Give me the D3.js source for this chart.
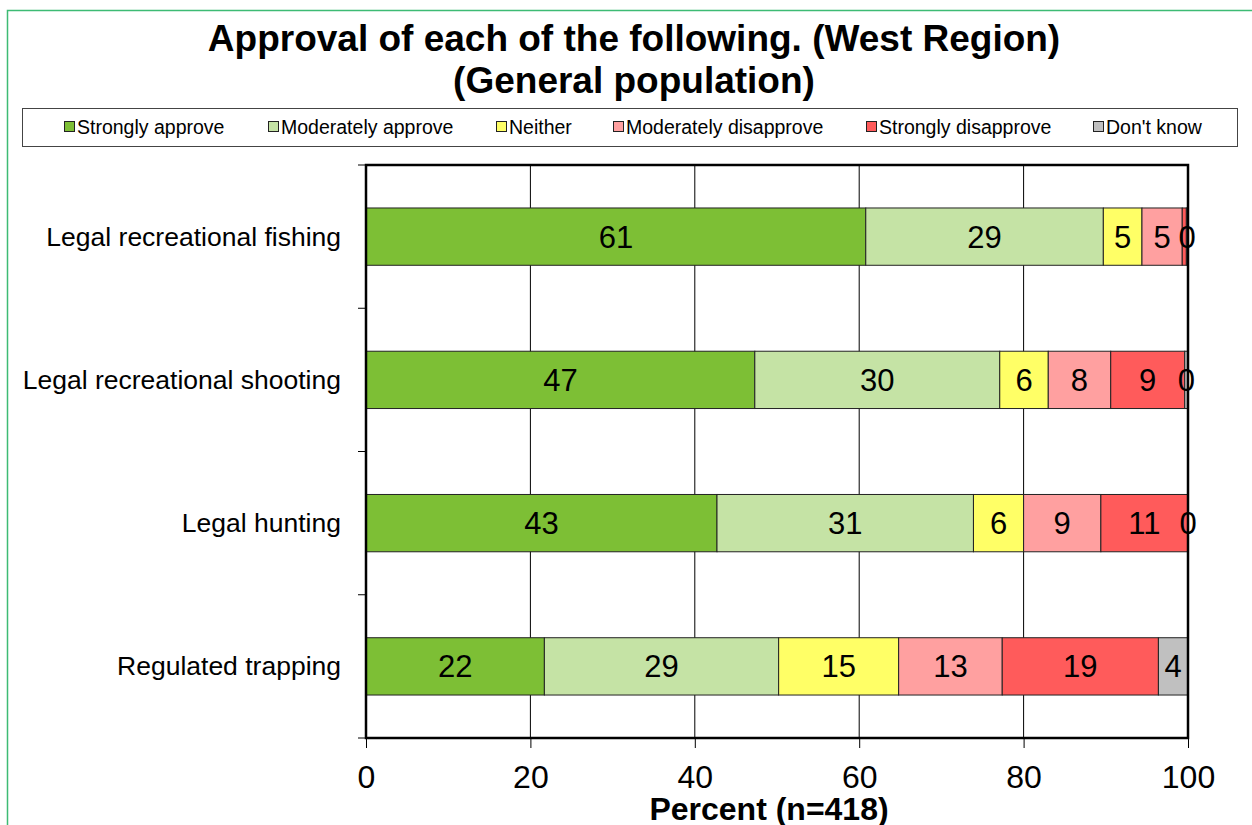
<!DOCTYPE html>
<html>
<head>
<meta charset="utf-8">
<script src="https://cdn.jsdelivr.net/npm/d3@7"></script>
<style>
  body { margin: 0; background: #fff; }
  svg { font-family: "Liberation Sans", Arial, sans-serif; }
</style>
</head>
<body>
<svg width="1252" height="825"></svg>
<script>
var categories = ["Legal recreational fishing", "Legal recreational shooting", "Legal hunting", "Regulated trapping"];
var seriesNames = ["Strongly approve", "Moderately approve", "Neither", "Moderately disapprove", "Strongly disapprove", "Don't know"];
var seriesColors = ["#7dbf35", "#c5e3a5", "#ffff66", "#ffa0a0", "#ff5b5b", "#c0c0c0"];
var stronglyApprove = [60.8, 47.3, 42.7, 21.7];
var moderatelyApprove = [28.9, 29.8, 31.2, 28.5];
var neither = [4.7, 5.9, 6.1, 14.6];
var moderatelyDisapprove = [4.9, 7.6, 9.4, 12.6];
var stronglyDisapprove = [0.5, 9.0, 10.6, 19.0];
var dontKnow = [0.2, 0.4, 0.0, 3.6];
var xTicks = [0, 20, 40, 60, 80, 100];

var seriesValues = [stronglyApprove, moderatelyApprove, neither, moderatelyDisapprove, stronglyDisapprove, dontKnow];

var svg = d3.select("svg"),
    margin = {top: 165, right: 64, bottom: 87, left: 366},
    width = +svg.attr("width") - margin.left - margin.right,
    height = +svg.attr("height") - margin.top - margin.bottom;

// green outer frame
svg.append("path")
    .attr("d", "M7.5,825 L7.5,10.5 L1252,10.5")
    .attr("fill", "none")
    .attr("stroke", "#3dbb74")
    .attr("stroke-width", 1.5);

// title
var title = svg.append("text")
    .attr("text-anchor", "middle")
    .attr("font-weight", "bold")
    .attr("font-size", 37)
    .attr("fill", "#000");
title.append("tspan").attr("x", 634).attr("y", 51).text("Approval of each of the following. (West Region)");
title.append("tspan").attr("x", 634).attr("y", 93).text("(General population)");

// legend
svg.append("rect")
    .attr("x", 22.5).attr("y", 108.5)
    .attr("width", 1215).attr("height", 38)
    .attr("fill", "#fff")
    .attr("stroke", "#444")
    .attr("stroke-width", 1);

var legendX = [64, 268, 496, 613, 866, 1093];
var legend = svg.selectAll(".legend-item")
    .data(seriesNames)
    .enter().append("g")
    .attr("class", "legend-item")
    .attr("transform", function (d, i) {
        return "translate(" + legendX[i] + ",127)";
    });
legend.append("rect")
    .attr("x", 0.5).attr("y", -5.5)
    .attr("width", 10).attr("height", 10)
    .attr("fill", function (d, i) { return seriesColors[i]; })
    .attr("stroke", "#222")
    .attr("stroke-width", 1);
legend.append("text")
    .attr("x", 13)
    .attr("y", 7)
    .attr("font-size", 19.5)
    .text(function (d) { return d; });

var x = d3.scaleLinear().domain([0, 100]).range([0, width]);
var y = d3.scaleBand().domain(categories).range([0, height]).paddingInner(0.6).paddingOuter(0.3);
var yBand = d3.scaleBand().domain(categories).range([0, height]);

var g = svg.append("g")
    .attr("transform", "translate(" + margin.left + "," + margin.top + ")");

// vertical gridlines
g.append("g")
    .selectAll("line")
    .data(xTicks.slice(1, -1))
    .enter().append("line")
    .attr("x1", function (d) { return x(d); })
    .attr("x2", function (d) { return x(d); })
    .attr("y1", 0).attr("y2", height)
    .attr("stroke", "#000")
    .attr("stroke-width", 1);

// stacked data
var rows = categories.map(function (c, i) {
    var row = {category: c};
    seriesNames.forEach(function (s, j) { row[s] = seriesValues[j][i]; });
    return row;
});
var stack = d3.stack().keys(seriesNames)(rows);

var layers = g.selectAll(".layer")
    .data(stack)
    .enter().append("g")
    .attr("class", "layer")
    .attr("fill", function (d, i) { return seriesColors[i]; });

layers.selectAll("rect")
    .data(function (d) { return d; })
    .enter().append("rect")
    .attr("x", function (d) { return x(d[0]); })
    .attr("y", function (d) { return y(d.data.category); })
    .attr("width", function (d) { return x(d[1]) - x(d[0]); })
    .attr("height", y.bandwidth())
    .attr("stroke", "#222")
    .attr("stroke-width", 1);

// value labels; the tiny last segments of the top rows share one "0"
layers.selectAll("text")
    .data(function (d) {
        return d.filter(function (p) { return !(d.key === "Strongly disapprove" && p[1] - p[0] < 1); });
    })
    .enter().append("text")
    .attr("x", function (d) { return (x(d[0]) + x(d[1])) / 2; })
    .attr("y", function (d) { return y(d.data.category) + y.bandwidth() / 2 + 11; })
    .attr("text-anchor", "middle")
    .attr("font-size", 31)
    .attr("fill", "#000")
    .text(function (d) { return Math.round(d[1] - d[0]); });

// plot border
g.append("rect")
    .attr("x", 0).attr("y", 0)
    .attr("width", width).attr("height", height)
    .attr("fill", "none")
    .attr("stroke", "#000")
    .attr("stroke-width", 2.5);

// y ticks at category boundaries
var yBounds = categories.map(function (c) { return yBand(c); }).concat([height]);
g.append("g")
    .selectAll("line")
    .data(yBounds)
    .enter().append("line")
    .attr("x1", -8).attr("x2", 0)
    .attr("y1", function (d) { return d; })
    .attr("y2", function (d) { return d; })
    .attr("stroke", "#000")
    .attr("stroke-width", 1);

// category labels
g.append("g")
    .selectAll("text")
    .data(categories)
    .enter().append("text")
    .attr("x", -25)
    .attr("y", function (d) { return y(d) + y.bandwidth() / 2 + 9; })
    .attr("text-anchor", "end")
    .attr("font-size", 26.5)
    .text(function (d) { return d; });

// x axis
var xAxis = g.append("g")
    .attr("transform", "translate(0," + height + ")")
    .call(d3.axisBottom(x).tickValues(xTicks).tickSize(10).tickPadding(17));
xAxis.select(".domain").remove();
xAxis.selectAll("line").attr("stroke", "#000");
xAxis.selectAll("text")
    .attr("font-size", 32)
    .attr("font-family", "Liberation Sans, Arial, sans-serif")
    .attr("fill", "#000");

svg.append("text")
    .attr("x", 769)
    .attr("y", 820)
    .attr("text-anchor", "middle")
    .attr("font-weight", "bold")
    .attr("font-size", 32)
    .text("Percent (n=418)");
</script>
</body>
</html>
